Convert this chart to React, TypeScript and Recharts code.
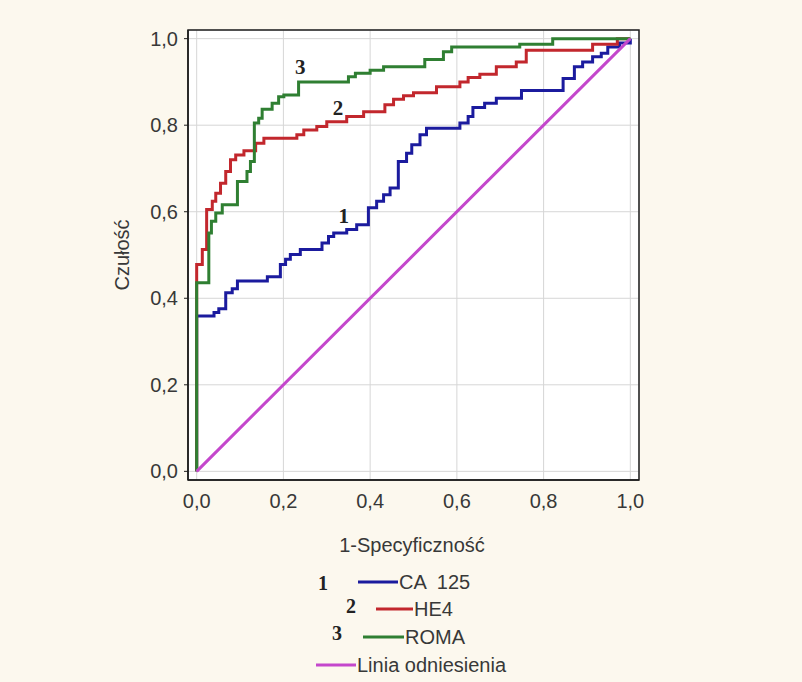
import { LineChart, Line, XAxis, YAxis, CartesianGrid, ReferenceDot, ReferenceArea } from "recharts";

const font = "'Liberation Sans', Arial, sans-serif";
const serif = "'Liberation Serif', 'DejaVu Serif', serif";
const ink = "#383838";

const ticks = [0, 0.2, 0.4, 0.6, 0.8, 1];

// ROC vertices: at each fpr the curve steps up to tpr
const ca125Fpr = [0, 0, 0.04, 0.051, 0.067, 0.082, 0.094, 0.163, 0.193, 0.205, 0.216, 0.239, 0.289, 0.304, 0.316, 0.346, 0.369, 0.396, 0.415, 0.431, 0.446, 0.465, 0.484, 0.496, 0.515, 0.53, 0.607, 0.626, 0.637, 0.664, 0.691, 0.749, 0.845, 0.871, 0.89, 0.913, 0.933, 0.948, 0.975, 1];
const ca125Tpr = [0, 0.359, 0.367, 0.376, 0.413, 0.422, 0.44, 0.45, 0.478, 0.49, 0.501, 0.513, 0.528, 0.543, 0.551, 0.559, 0.57, 0.609, 0.624, 0.639, 0.655, 0.716, 0.735, 0.755, 0.778, 0.793, 0.805, 0.82, 0.841, 0.851, 0.862, 0.88, 0.908, 0.935, 0.946, 0.958, 0.966, 0.981, 0.99, 1];

const he4Fpr = [0, 0, 0.013, 0.023, 0.036, 0.044, 0.055, 0.067, 0.078, 0.09, 0.109, 0.136, 0.155, 0.231, 0.247, 0.277, 0.3, 0.346, 0.385, 0.434, 0.454, 0.477, 0.5, 0.553, 0.607, 0.626, 0.653, 0.691, 0.737, 0.76, 0.913, 0.97, 1];
const he4Tpr = [0, 0.478, 0.513, 0.605, 0.624, 0.643, 0.666, 0.693, 0.72, 0.731, 0.741, 0.758, 0.77, 0.778, 0.789, 0.797, 0.808, 0.82, 0.831, 0.847, 0.86, 0.868, 0.875, 0.889, 0.9, 0.91, 0.918, 0.935, 0.946, 0.973, 0.987, 1, 1];

const romaFpr = [0, 0, 0.028, 0.034, 0.044, 0.059, 0.094, 0.116, 0.124, 0.133, 0.143, 0.151, 0.174, 0.189, 0.201, 0.235, 0.35, 0.366, 0.4, 0.431, 0.526, 0.569, 0.588, 0.745, 0.821, 1];
const romaTpr = [0, 0.436, 0.551, 0.578, 0.597, 0.616, 0.67, 0.693, 0.716, 0.805, 0.816, 0.837, 0.851, 0.866, 0.87, 0.9, 0.912, 0.92, 0.927, 0.935, 0.952, 0.97, 0.981, 0.987, 1, 1];

const refFpr = [0, 1];
const refTpr = [0, 1];

const toPoints = (fpr: number[], tpr: number[]) => fpr.map((x, i) => ({ x, y: tpr[i] }));

const series = [
  { key: "ca125", num: "1", name: "CA  125", color: "#1b1b9e", pts: toPoints(ca125Fpr, ca125Tpr), tag: [0.339, 0.589] },
  { key: "he4", num: "2", name: "HE4", color: "#c2272d", pts: toPoints(he4Fpr, he4Tpr), tag: [0.326, 0.839] },
  { key: "roma", num: "3", name: "ROMA", color: "#2f7f32", pts: toPoints(romaFpr, romaTpr), tag: [0.239, 0.935] },
];
const reference = { name: "Linia odniesienia", color: "#c447cc", pts: toPoints(refFpr, refTpr) };

// legend rows are staggered like in the original figure
const legendRows = [
  { numX: 323, numY: 583, x1: 358, x2: 398, y: 582 },
  { numX: 351, numY: 606, x1: 376, x2: 413, y: 609 },
  { numX: 337, numY: 633, x1: 363, x2: 404, y: 637 },
  { numX: 0, numY: 0, x1: 316, x2: 356, y: 665 },
];

const domain: [number, number] = [-0.02, 1.02];
const fmt = (v: number) => v.toFixed(1).replace(".", ",");
const tickStyle = { fill: ink, fontSize: 20, fontFamily: font };
const frame = { stroke: "#1e1e1e", strokeWidth: 1.5 };

export default function App() {
  const legendItems = [...series.map((s) => ({ num: s.num, name: s.name, color: s.color })), { num: "", name: reference.name, color: reference.color }];

  return (
    <div style={{ position: "absolute", left: 0, top: 0, width: 802, height: 682, background: "#fcf8ee", overflow: "hidden" }}>
      <LineChart
        width={802}
        height={682}
        margin={{ top: 30, right: 163, bottom: 162, left: 128 }}
        style={{ position: "absolute", left: 0, top: 0 }}
      >
        <CartesianGrid stroke="#d6d6d6" fill="#ffffff" />
        <XAxis
          dataKey="x"
          type="number"
          domain={domain}
          ticks={ticks}
          tickFormatter={fmt}
          tick={tickStyle}
          tickLine={false}
          tickSize={6}
          tickMargin={8}
          axisLine={frame}
          height={40}
          allowDataOverflow
        />
        <YAxis
          type="number"
          domain={domain}
          ticks={ticks}
          tickFormatter={fmt}
          tick={tickStyle}
          tickSize={4}
          tickMargin={6}
          tickLine={{ stroke: "#1e1e1e" }}
          axisLine={frame}
          width={60}
          allowDataOverflow
        />
        {series.map((s) => (
          <Line
            key={s.key}
            data={s.pts}
            dataKey="y"
            type="stepAfter"
            stroke={s.color}
            strokeWidth={3}
            dot={false}
            activeDot={false}
            isAnimationActive={false}
          />
        ))}
        <Line
          data={reference.pts}
          dataKey="y"
          type="linear"
          stroke={reference.color}
          strokeWidth={3}
          dot={false}
          activeDot={false}
          isAnimationActive={false}
        />
        <ReferenceArea
          x1={domain[0]}
          x2={domain[1]}
          y1={domain[0]}
          y2={domain[1]}
          fill="none"
          stroke="#1e1e1e"
          strokeWidth={1.5}
          ifOverflow="visible"
        />
        {series.map((s) => (
          <ReferenceDot
            key={`tag-${s.key}`}
            x={s.tag[0]}
            y={s.tag[1]}
            r={0}
            shape={(p: any) => (
              <text
                x={p.cx}
                y={p.cy}
                textAnchor="middle"
                dominantBaseline="central"
                fontFamily={serif}
                fontWeight="bold"
                fontSize={21}
                fill="#222"
              >
                {s.num}
              </text>
            )}
          />
        ))}
      </LineChart>

      <svg width={802} height={682} style={{ position: "absolute", left: 0, top: 0, pointerEvents: "none" }}>
        <text
          transform="translate(121.5,255) rotate(-90)"
          textAnchor="middle"
          dominantBaseline="central"
          fontFamily={font}
          fontSize={20}
          fill={ink}
        >
          Czułość
        </text>
        <text x={412} y={545} textAnchor="middle" dominantBaseline="central" fontFamily={font} fontSize={20} fill={ink}>
          1-Specyficzność
        </text>
        {legendItems.map((it, i) => {
          const row = legendRows[i];
          return (
            <g key={it.name}>
              {it.num && (
                <text
                  x={row.numX}
                  y={row.numY}
                  textAnchor="middle"
                  dominantBaseline="central"
                  fontFamily={serif}
                  fontWeight="bold"
                  fontSize={20}
                  fill="#222"
                >
                  {it.num}
                </text>
              )}
              <line x1={row.x1} x2={row.x2} y1={row.y} y2={row.y} stroke={it.color} strokeWidth={3} />
              <text
                x={row.x2 + 1}
                y={row.y}
                dominantBaseline="central"
                fontFamily={font}
                fontSize={20}
                fill={ink}
                style={{ whiteSpace: "pre" }}
              >
                {it.name}
              </text>
            </g>
          );
        })}
      </svg>
    </div>
  );
}
